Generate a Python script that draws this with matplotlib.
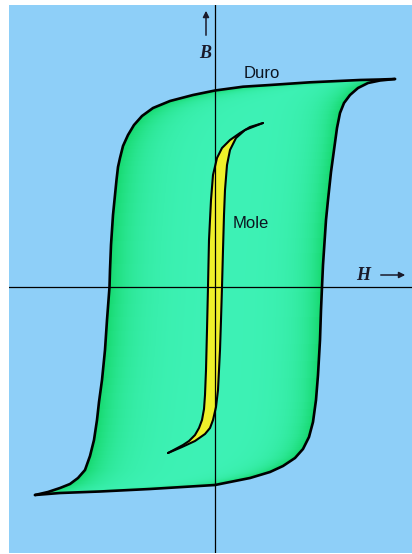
import numpy as np
import matplotlib
matplotlib.use("Agg")
import matplotlib.pyplot as plt
from matplotlib.path import Path
from matplotlib.patches import PathPatch

# ---- data (H, B); origin at axis crossing ----
duro_down_H = [180, 165, 145, 95, 55, 28, 0, -22, -45, -62, -73, -81, -87, -92, -95, -97, -98.5,
               -100, -102, -104, -105, -105.5, -108, -110, -113, -116, -118, -121, -125, -130,
               -137, -145, -155, -167, -180]
duro_down_B = [208, 207.5, 207, 204.7, 202, 200.3, 196.5, 192, 186, 179, 171, 162, 152, 141,
               129, 120, 107, 92, 72, 42, 17, 0, -33, -63, -93, -115, -133, -153, -169, -183,
               -191, -197, -201, -205, -208]
duro_up_H = [-180, -155, -115, -65, 0, 35, 55, 68, 80, 88, 94, 98, 101, 103, 105, 106, 107,
             108, 109, 111, 113, 116, 119, 122, 125, 129, 135, 143, 153, 165, 180]
duro_up_B = [-208, -206, -204.5, -202, -198, -191, -185, -179, -171, -162, -150, -135, -113,
             -88, -53, -23, 0, 22, 37, 67, 87, 115, 137, 159, 174, 184, 192, 199, 204, 206.5, 208]

mole_down_H = [48, 35, 25, 15, 7, 2, -2, -4, -6, -7, -8, -9, -10, -11, -13, -16, -20, -26, -32, -47]
mole_down_B = [164, 160, 154, 147, 139, 129, 112, 87, 47, 0, -43, -83, -108, -122, -133, -141,
               -148, -154, -158, -166]
mole_up_H = [-47, -33, -20, -10, -5, -2, 1, 3, 5, 6, 7, 8, 9, 10, 12, 15, 21, 30, 48]
mole_up_B = [-166, -160, -154, -147, -141, -133, -120, -103, -63, -33, 0, 37, 72, 97, 122, 137,
             149, 157, 164]

labels = {"duro": "Duro", "mole": "Mole", "H": "H", "B": "B"}

# ---- styling ----
BG = "#8ECFF8"
GREEN_LIGHT = np.array([62, 242, 182]) / 255
GREEN_DARK = np.array([20, 216, 106]) / 255
YELLOW = "#EEF02A"

fig = plt.figure(figsize=(4.12, 5.54), dpi=100)
fig.patch.set_facecolor("white")
ax = fig.add_axes([9 / 412, 1 / 554, 403 / 412, 548 / 554])
ax.set_facecolor(BG)
x0, x1, y0, y1 = -206, 197, -266, 282
ax.set_xlim(x0, x1)
ax.set_ylim(y0, y1)
for s in ax.spines.values():
    s.set_visible(False)
ax.set_xticks([])
ax.set_yticks([])

big_H = np.concatenate([duro_down_H, duro_up_H[1:]])
big_B = np.concatenate([duro_down_B, duro_up_B[1:]])
big_path = Path(np.column_stack([big_H, big_B]), closed=False)

# gradient image for the big loop
nx, ny = 403, 548
xs = np.linspace(x0, x1, nx)
ys = np.linspace(y1, y0, ny)
XX, YY = np.meshgrid(xs, ys)
inside = big_path.contains_points(np.column_stack([XX.ravel(), YY.ravel()])).reshape(ny, nx)
dark = np.zeros((ny, nx))
for i in range(ny):
    idx = np.where(inside[i])[0]
    if idx.size:
        j = np.arange(nx)
        dl = np.clip(j - idx[0], 0, None)
        dr = np.clip(idx[-1] - j, 0, None)
        dark[i] = np.maximum(np.exp(-dl / 24.0), np.exp(-dr / 18.0))
dark = np.clip(dark, 0, 1) * 0.92
img = GREEN_LIGHT[None, None, :] * (1 - dark[..., None]) + GREEN_DARK[None, None, :] * dark[..., None]
im = ax.imshow(img, extent=[x0, x1, y0, y1], origin="upper", aspect="auto", zorder=1,
               interpolation="bilinear")
clip = PathPatch(big_path, transform=ax.transData, facecolor="none", edgecolor="none")
ax.add_patch(clip)
im.set_clip_path(clip)

# small loop fill
ax.fill(np.concatenate([mole_down_H, mole_up_H[1:]]),
        np.concatenate([mole_down_B, mole_up_B[1:]]), color=YELLOW, zorder=2, lw=0)

# axes lines
ax.axvline(0, color="black", lw=0.9, zorder=3)
ax.axhline(0, color="black", lw=0.9, zorder=3)

# loop outlines
line_kw = dict(color="black", zorder=4, solid_capstyle="round", solid_joinstyle="round")
ax.plot(duro_down_H, duro_down_B, lw=1.9, **line_kw)
ax.plot(duro_up_H, duro_up_B, lw=1.9, **line_kw)
ax.plot(mole_down_H, mole_down_B, lw=1.5, **line_kw)
ax.plot(mole_up_H, mole_up_B, lw=1.5, **line_kw)

# labels
ax.text(47, 213, labels["duro"], family="Liberation Sans", fontsize=12, color="#0c1420",
        ha="center", va="center", zorder=5)
ax.text(36, 64, labels["mole"], family="Liberation Sans", fontsize=12, color="#0c1420",
        ha="center", va="center", zorder=5)
ax.text(-10, 234, labels["B"], family="Liberation Serif", style="italic", fontweight="bold",
        fontsize=13, color="#1a1a2a", ha="center", va="center", zorder=5)
ax.text(148, 12, labels["H"], family="Liberation Serif", style="italic", fontweight="bold",
        fontsize=13, color="#1a1a2a", ha="center", va="center", zorder=5)
ax.annotate("", xy=(-9, 279), xytext=(-9, 249),
            arrowprops=dict(arrowstyle="-|>", lw=1.1, color="#1a1a2a", mutation_scale=9))
ax.annotate("", xy=(193, 12), xytext=(163, 12),
            arrowprops=dict(arrowstyle="-|>", lw=1.1, color="#1a1a2a", mutation_scale=9))

fig.savefig("out.png", dpi=100, facecolor="white")
